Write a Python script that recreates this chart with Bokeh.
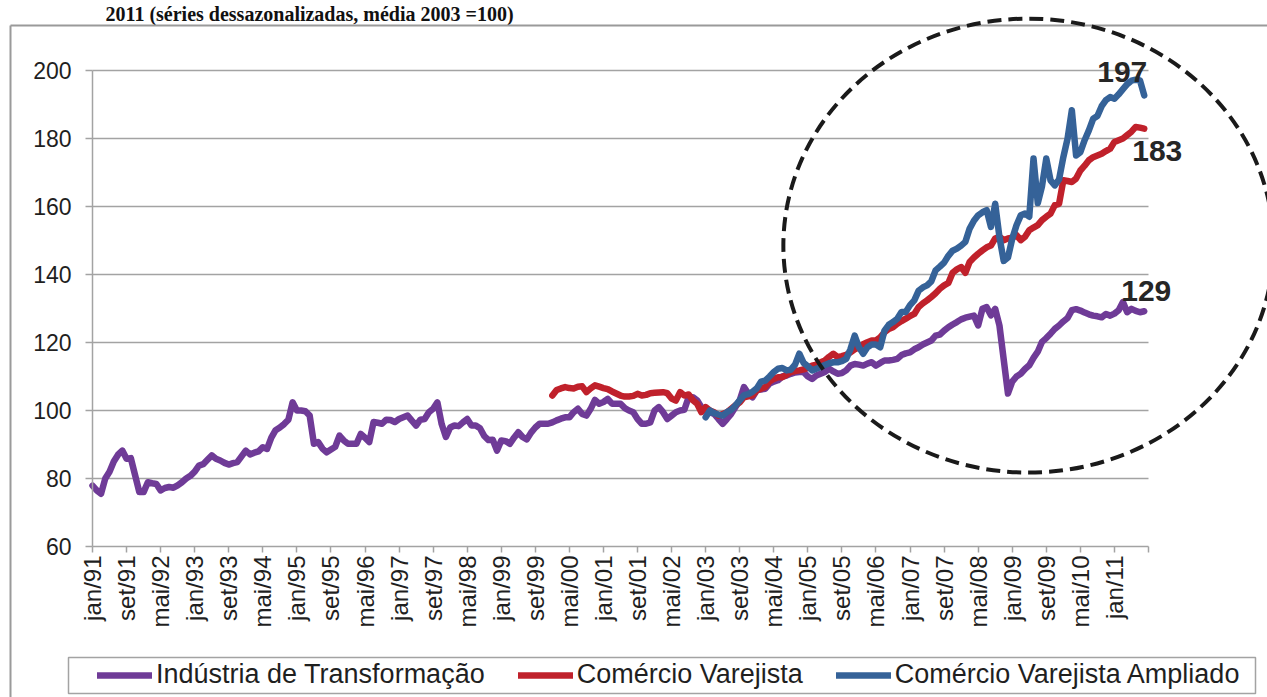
import math
from bokeh.plotting import figure
from bokeh.models import FixedTicker, Range1d, Legend, LegendItem
from bokeh.core.properties import value
from bokeh.embed import file_html
from bokeh.resources import INLINE

# ---------------- data ----------------
title_text = "2011 (séries dessazonalizadas, média 2003 =100)"

x_tick_labels = ["jan/91", "set/91", "mai/92", "jan/93", "set/93", "mai/94", "jan/95",
                 "set/95", "mai/96", "jan/97", "set/97", "mai/98", "jan/99", "set/99",
                 "mai/00", "jan/01", "set/01", "mai/02", "jan/03", "set/03", "mai/04",
                 "jan/05", "set/05", "mai/06", "jan/07", "set/07", "mai/08", "jan/09",
                 "set/09", "mai/10", "jan/11"]
y_ticks = [60, 80, 100, 120, 140, 160, 180, 200]

series_names = ["Indústria de Transformação", "Comércio Varejista", "Comércio Varejista Ampliado"]

# monthly index (0 = jan/91)
industria_start = 0
industria = [
    77.9, 76.5, 75.5, 80.0, 82.0, 85.0, 87.0, 88.2, 85.8, 86.0, 81.0, 76.0,
    76.0, 78.9, 78.6, 78.4, 76.5, 77.2, 77.5, 77.3, 78.0, 78.9, 80.0, 80.8,
    82.0, 83.8, 84.2, 85.5, 86.8, 85.8, 85.3, 84.6, 84.1, 84.5, 84.8, 86.5,
    88.2, 87.1, 87.6, 88.0, 89.2, 88.7, 92.0, 94.2, 95.0, 96.0, 97.3, 102.4,
    100.0, 100.0, 99.8, 98.5, 90.2, 90.7, 88.8, 87.7, 88.5, 89.3, 92.6, 91.2,
    90.2, 90.2, 90.2, 93.1, 92.0, 90.7, 96.6, 96.4, 96.1, 97.3, 97.2, 96.6,
    97.5, 98.0, 98.5, 97.0, 95.6, 97.3, 97.5, 99.5, 100.5, 102.4, 96.0, 92.2,
    95.0, 95.6, 95.4, 96.5, 97.5, 95.6, 95.6, 94.8, 92.5, 91.3, 91.4, 88.2,
    91.2, 91.0, 90.2, 92.0, 93.6, 92.2, 91.5, 93.5, 95.0, 96.1, 96.1, 96.1,
    96.5, 97.1, 97.6, 98.0, 98.0, 99.5, 100.5, 99.0, 98.5, 100.5, 103.1, 102.0,
    102.5, 103.4, 102.0, 102.0, 102.0, 100.7, 100.0, 99.5, 97.5, 96.1, 96.1, 96.5,
    100.0, 101.0, 99.5, 97.5, 98.5, 99.5, 100.0, 100.2, 103.9, 103.9, 103.0, 101.0,
    100.0, 99.5, 99.0, 97.5, 96.1, 97.5, 99.0, 101.0, 103.0, 106.9, 105.0, 103.9,
    105.9, 106.2, 106.4, 107.9, 108.5, 108.9, 110.0, 110.3, 110.8, 111.2, 111.3, 111.3,
    110.0, 109.3, 110.3, 110.8, 111.3, 112.3, 111.5, 110.8, 111.0, 111.8, 113.2, 113.7,
    113.5, 113.2, 113.8, 114.2, 113.2, 114.0, 114.7, 114.7, 114.9, 115.2, 116.3, 116.8,
    117.1, 118.0, 118.6, 119.4, 120.0, 120.6, 122.0, 122.3, 123.5, 124.5, 125.3, 126.0,
    126.8, 127.3, 127.6, 127.9, 125.0, 129.9, 130.4, 128.0, 129.9, 125.0, 115.0, 105.0,
    108.5, 110.0, 110.8, 112.2, 113.3, 115.5, 117.3, 120.2, 121.3, 122.6, 124.0, 125.0,
    126.2, 127.2, 129.5, 129.8, 129.4, 128.8, 128.3, 127.9, 127.7, 127.4, 128.4, 127.9,
    128.5, 129.5, 131.9, 128.9, 129.9, 129.3, 128.9, 129.2,
]

varejo_start = 108  # jan/00
varejo = [
    104.4, 106.0, 106.5, 106.9, 106.6, 106.5, 107.0, 107.1, 105.4, 106.5, 107.4, 107.0,
    106.6, 106.3, 105.6, 105.0, 104.4, 104.1, 104.1, 104.3, 104.9, 104.4, 104.6, 105.1,
    105.2, 105.3, 105.4, 105.1, 103.5, 102.9, 105.4, 104.4, 104.7, 103.0, 102.0, 99.5,
    101.0, 100.0, 99.5, 98.5, 99.0, 99.5, 100.5, 101.5, 102.4, 103.9, 104.2, 104.4,
    105.9, 106.4, 106.9, 108.5, 109.3, 109.8, 109.8, 110.5, 111.3, 111.6, 111.8, 112.1,
    112.6, 113.2, 113.5, 114.2, 114.7, 115.8, 116.7, 115.7, 116.0, 116.4, 117.1, 118.0,
    118.6, 119.5, 120.1, 120.6, 120.6, 121.5, 123.0, 124.0, 124.5, 125.5, 126.3, 127.0,
    127.8, 128.4, 130.4, 131.5, 132.4, 133.4, 134.5, 135.8, 136.8, 137.5, 140.5, 141.5,
    142.2, 140.5, 143.7, 145.0, 146.1, 147.1, 148.0, 148.5, 150.6, 151.1, 150.1, 150.6,
    150.8, 151.6, 150.1, 151.1, 153.0, 153.8, 154.5, 156.0, 157.0, 157.9, 160.4, 160.8,
    167.7, 167.5, 167.2, 168.2, 170.6, 172.0, 173.6, 174.5, 175.0, 175.5, 176.3, 177.0,
    179.0, 179.5, 180.0, 181.0, 182.0, 183.4, 183.2, 182.9,
]

ampliado_start = 144  # jan/03
ampliado = [
    98.0, 100.0, 99.2, 98.8, 98.5, 99.5, 100.2, 101.5, 103.0, 104.5, 104.8, 105.5,
    106.5, 108.5, 108.8, 110.0, 111.3, 112.3, 112.5, 111.8, 112.0, 113.5, 116.7, 114.0,
    113.0, 111.8, 112.3, 112.8, 113.4, 113.9, 114.2, 114.2, 114.5, 115.2, 118.0, 122.0,
    118.6, 116.7, 118.6, 119.4, 119.4, 118.6, 123.5, 125.2, 126.0, 127.0, 129.0, 129.0,
    131.0, 132.4, 135.2, 136.2, 136.8, 138.0, 141.2, 142.3, 143.5, 145.5, 147.0, 147.6,
    148.5, 149.6, 153.5, 155.8, 157.4, 158.3, 158.9, 154.0, 160.8, 151.0, 144.0, 145.0,
    150.5, 154.5, 157.4, 157.9, 157.0, 174.1, 161.0, 166.0, 174.1, 167.7, 166.2, 168.0,
    174.5, 180.0, 188.3, 175.0, 176.0, 179.5, 182.4, 185.8, 186.6, 189.5, 191.3, 192.2,
    191.7, 193.0, 194.5, 196.0, 197.0, 197.3, 197.1, 192.7,
]

end_labels = ["129", "183", "197"]
end_label_values = [129, 183, 197]

# ---------------- layout / styles ----------------
W, H = 1267, 697
PX_MONTH = 4.258          # pixels per month
PX_UNIT = 3.4             # pixels per index point
ORIGIN_X = 92             # canvas x of month 0
ORIGIN_Y = 546            # canvas y of value 60
Y_MIN = 60

def dx(px):
    return (px - ORIGIN_X) / PX_MONTH

def dy(py):
    return Y_MIN + (ORIGIN_Y - py) / PX_UNIT

FONT = "Liberation Sans"
GRID = "#a3a3a3"
TXT = "#1f1f1f"
PURPLE = "#6f3b97"
RED = "#c0212b"
BLUE = "#356298"
LW = 6.5
BORDER_TOP = 25

p = figure(width=W, height=H, output_backend="svg", toolbar_location=None,
           title=None, x_range=Range1d(dx(0), dx(W)), y_range=Range1d(dy(H), dy(0)),
           min_border=0, min_border_left=0, min_border_right=0,
           min_border_top=0, min_border_bottom=0)
p.background_fill_color = "white"
p.border_fill_color = "white"
p.outline_line_color = None

n_ticks = len(x_tick_labels)
x_ticks = [8 * i for i in range(n_ticks + 1)]
x_end = x_ticks[-1]

# axes
xa = p.xaxis[0]
xa.fixed_location = Y_MIN
xa.bounds = (0, x_end)
xa.ticker = FixedTicker(ticks=x_ticks)
overrides = {8 * i: lbl for i, lbl in enumerate(x_tick_labels)}
overrides[x_end] = ""
xa.major_label_overrides = overrides
xa.major_label_orientation = math.pi / 2
xa.major_label_text_font = FONT
xa.major_label_text_font_size = "24px"
xa.major_label_text_color = TXT
xa.major_tick_out = 6
xa.major_tick_in = 0
xa.minor_tick_line_color = None
xa.major_label_standoff = 3
xa.axis_line_color = GRID
xa.axis_line_width = 1.5
xa.major_tick_line_color = GRID
xa.major_tick_line_width = 1.5

ya = p.yaxis[0]
ya.fixed_location = 0
ya.bounds = (y_ticks[0], y_ticks[-1])
ya.ticker = FixedTicker(ticks=y_ticks)
ya.major_label_text_font = FONT
ya.major_label_text_font_size = "23px"
ya.major_label_text_color = TXT
ya.major_tick_out = 7
ya.major_tick_in = 0
ya.minor_tick_line_color = None
ya.major_label_standoff = 14
ya.axis_line_color = GRID
ya.axis_line_width = 1.5
ya.major_tick_line_color = GRID
ya.major_tick_line_width = 1.5

p.xgrid.visible = False
yg = p.ygrid[0]
yg.ticker = FixedTicker(ticks=y_ticks[1:])
yg.grid_line_color = GRID
yg.grid_line_width = 1.5
try:
    yg.cross_bounds = (0, x_end)
except Exception:
    yg.visible = False
    gt = y_ticks[1:]
    p.segment(x0=[0] * len(gt), x1=[x_end] * len(gt), y0=gt, y1=gt,
              line_color=GRID, line_width=1.5)

# page title, kept inside the picture
p.text(x=[dx(105)], y=[dy(2)], text=[title_text], text_font=value("Liberation Serif"),
       text_font_style="bold", text_font_size="20px", text_color="#111111",
       text_align="left", text_baseline="top")

# outer chart border
p.line([dx(10), dx(10)], [dy(H + 10), dy(BORDER_TOP)], line_color="#9a9a9a", line_width=2)
p.line([dx(10), dx(W + 10)], [dy(BORDER_TOP), dy(BORDER_TOP)], line_color="#9a9a9a", line_width=2)

# series
def xs(start, vals):
    return list(range(start, start + len(vals)))

r1 = p.line(xs(industria_start, industria), industria, line_color=PURPLE, line_width=LW,
            line_join="round", line_cap="round")
r2 = p.line(xs(varejo_start, varejo), varejo, line_color=RED, line_width=LW,
            line_join="round", line_cap="round")
r3 = p.line(xs(ampliado_start, ampliado), ampliado, line_color=BLUE, line_width=LW,
            line_join="round", line_cap="round")

# highlight ellipse
p.ellipse(x=[219.8], y=[148.5], width=[115.1], height=[133.5], fill_color=None,
          line_color="#1a1a1a", line_width=4, line_dash="14 7")

# end-value labels
last_x = len(industria) - 1
offsets = [(2, -21), (13, 23), (-22, -9)]
for txt, yv, (xo, yo) in zip(end_labels, end_label_values, offsets):
    p.text(x=[last_x], y=[yv], text=[txt], x_offset=xo, y_offset=yo,
           text_font=value(FONT), text_font_style="bold", text_font_size="30px",
           text_color="#262626", text_align="center", text_baseline="middle")

# legend box
p.quad(left=[dx(68)], right=[dx(1255)], top=[dy(657)], bottom=[dy(693)],
       fill_color=None, line_color=GRID, line_width=1.5)

legend = Legend(items=[LegendItem(label=series_names[0], renderers=[r1]),
                       LegendItem(label=series_names[1], renderers=[r2]),
                       LegendItem(label=series_names[2], renderers=[r3])],
                orientation="horizontal", location=(97, 7), padding=0, margin=0,
                spacing=33, glyph_width=55, glyph_height=30, label_height=30,
                label_standoff=4, label_text_font=FONT, label_text_font_size="27px",
                label_text_color=TXT, border_line_alpha=0, background_fill_alpha=0)
p.add_layout(legend, "center")

open("out.html", "w").write(file_html(p, INLINE))
